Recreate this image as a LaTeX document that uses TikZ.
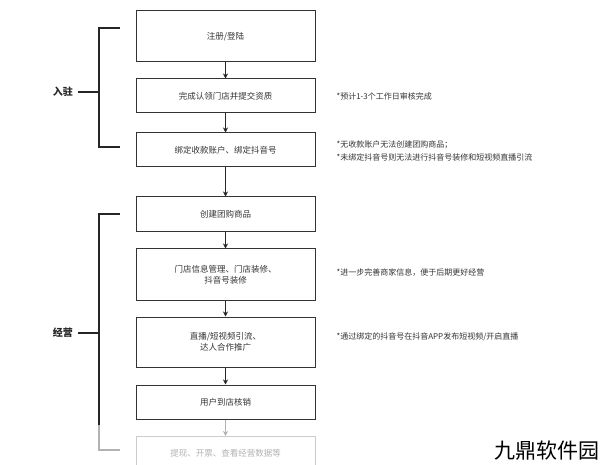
\documentclass[tikz,border=0pt]{standalone}
\usepackage{fontspec}
\setmainfont{Noto Sans CJK SC}
\usetikzlibrary{arrows.meta}
\tikzset{
 stepbox/.style={draw=black!80,line width=1pt,minimum width=179pt,align=center,font=\fontsize{8.5}{11}\selectfont,text=black!80},
 flow/.style={-{Stealth[length=5pt,width=5pt]},line width=1pt,draw=black!85},
 note/.style={anchor=west,align=left,font=\fontsize{8}{13}\selectfont,text=black!80},
 brk/.style={line width=1.4pt,draw=black!85},
 lbl/.style={font=\fontsize{10}{12}\selectfont\bfseries,text=black!85}
}
\begin{document}
\begin{tikzpicture}[x=1pt,y=-1pt]
\useasboundingbox (0,0) rectangle (600,465);
\node[stepbox,minimum height=51pt] (b1) at (225.5,36.5) {注册/登陆};
\node[stepbox,minimum height=34pt] (b2) at (225.5,96) {完成认领门店并提交资质};
\node[stepbox,minimum height=34pt] (b3) at (225.5,150) {绑定收款账户、绑定抖音号};
\node[stepbox,minimum height=35pt] (b4) at (225.5,214.5) {创建团购商品};
\node[stepbox,minimum height=51pt] (b5) at (225.5,274.5) {门店信息管理、门店装修、\\抖音号装修};
\node[stepbox,minimum height=50pt] (b6) at (225.5,342) {直播/短视频引流、\\达人合作推广};
\node[stepbox,minimum height=34pt] (b7) at (225.5,402) {用户到店核销};
\node[stepbox,minimum height=34pt,draw=black!20,text=black!30,anchor=north] (b8) at (225.5,436) {提现、开票、查看经营数据等};
\draw[flow] (b1) -- (b2);
\draw[flow] (b2) -- (b3);
\draw[flow] (b3) -- (b4);
\draw[flow] (b4) -- (b5);
\draw[flow] (b5) -- (b6);
\draw[flow] (b6) -- (b7);
\draw[flow,draw=black!30] (b7) -- (b8);
\node[note] (n2) at (333,96) {*预计1-3个工作日审核完成};
\node[note] (n3) at (333,151) {*无收款账户无法创建团购商品；\\*未绑定抖音号则无法进行抖音号装修和短视频直播引流};
\node[note] (n5) at (333,273) {*进一步完善商家信息，便于后期更好经营};
\node[note] (n6) at (333,337) {*通过绑定的抖音号在抖音APP发布短视频/开启直播};
% bracket 1
\coordinate (t1) at (120,28); \coordinate (t1b) at (99,28);
\coordinate (e1) at (120,147); \coordinate (e1b) at (99,147);
\coordinate (m1) at (99,92); \coordinate (m1a) at (78,92);
\draw[brk] (t1) -- (t1b) -- (e1b) -- (e1);
\draw[brk] (m1) -- (m1a);
\node[lbl,anchor=east] (l1) at (m1a) {入驻\,};
% bracket 2
\coordinate (t2) at (120,214); \coordinate (t2b) at (99,214);
\coordinate (e2) at (120,450); \coordinate (e2b) at (99,450);
\coordinate (g2) at (99,425);
\coordinate (m2) at (99,333); \coordinate (m2a) at (78,333);
\draw[brk] (t2) -- (t2b) -- (g2);
\draw[brk,draw=black!30] (g2) -- (e2b) -- (e2);
\draw[brk] (m2) -- (m2a);
\node[lbl,anchor=east] (l2) at (m2a) {经营\,};
\node[font=\fontsize{21}{24}\selectfont,text=black,anchor=south east,inner sep=0pt] (wm) at (600,461) {九鼎软件园};
\end{tikzpicture}
\end{document}
